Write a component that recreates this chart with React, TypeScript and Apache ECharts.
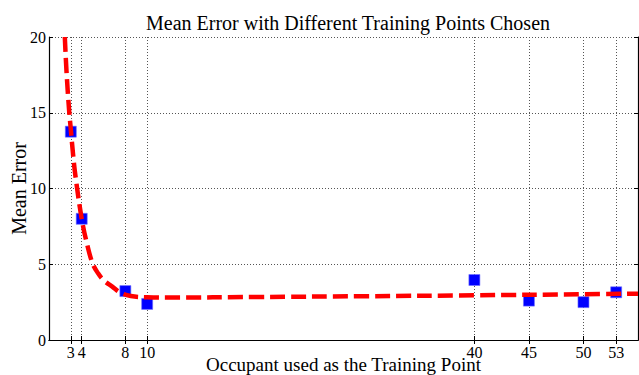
import React, { useEffect, useRef } from "react";
import * as echarts from "echarts";

// Training-point occupants and the measured mean error for each
const occupants = [3, 4, 8, 10, 40, 45, 50, 53];
const meanErrors = [13.75, 8.0, 3.23, 2.38, 3.96, 2.6, 2.5, 3.15];

// Fitted trend curve (x, y) samples
const fitX = [2.45, 2.6, 2.84, 3.0, 3.2, 3.43, 4.0, 4.5, 5.0, 5.5, 6.0, 6.8, 7.5, 8.5, 10, 12, 20, 30, 40, 50, 55];
const fitY = [20, 17.8, 15.2, 13.9, 12.3, 10.8, 8.0, 6.3, 5.05, 4.4, 3.95, 3.52, 3.15, 2.9, 2.82, 2.8, 2.84, 2.89, 2.95, 3.02, 3.06];

// Axis ticks
const xTicks = [3, 4, 8, 10, 40, 45, 50, 53];
const yTicks = [0, 5, 10, 15, 20];

const FONT = "'Liberation Serif', 'DejaVu Serif', serif";

export default function App() {
  const ref = useRef<HTMLDivElement>(null);

  useEffect(() => {
    if (!ref.current) return;
    const chart = echarts.init(ref.current, null, { renderer: "svg" });

    const gridLine = { show: true, lineStyle: { color: "#555", width: 1, type: [1, 2] as number[] } };
    const axisLine = { show: true, lineStyle: { color: "#000", width: 1.2 } };

    chart.setOption({
      animation: false,
      backgroundColor: "#fff",
      title: {
        text: "Mean Error with Different Training Points Chosen",
        left: 343,
        textAlign: "center",
        top: 8,
        textStyle: { fontFamily: FONT, fontWeight: "normal", fontSize: 20, color: "#000" },
      },
      grid: { left: 49, right: 1, top: 37, bottom: 35, containLabel: false, outerBoundsMode: "none" },
      xAxis: [
        {
          type: "value",
          min: 1,
          max: 55,
          position: "bottom",
          name: "Occupant used as the Training Point",
          nameLocation: "middle",
          nameGap: 15,
          nameMoveOverlap: false,
          nameTextStyle: { fontFamily: FONT, fontSize: 19, color: "#000" },
          axisLine,
          axisTick: { show: true, inside: true, length: 4, customValues: xTicks, lineStyle: { color: "#000" } },
          axisLabel: { customValues: xTicks, fontFamily: FONT, fontSize: 16, color: "#000", margin: 4 },
          splitLine: gridLine,
        },
        {
          type: "value",
          min: 1,
          max: 55,
          position: "top",
          axisLine,
          axisTick: { show: true, inside: true, length: 4, customValues: xTicks, lineStyle: { color: "#000" } },
          axisLabel: { show: false, customValues: xTicks },
          splitLine: { show: false },
        },
      ],
      yAxis: [
        {
          type: "value",
          min: 0,
          max: 20,
          interval: 5,
          position: "left",
          name: "Mean Error",
          nameLocation: "middle",
          nameGap: 20,
          nameMoveOverlap: false,
          nameTextStyle: { fontFamily: FONT, fontSize: 20, color: "#000" },
          axisLine,
          axisTick: { show: true, inside: true, length: 4, customValues: yTicks, lineStyle: { color: "#000" } },
          axisLabel: { customValues: yTicks, fontFamily: FONT, fontSize: 16, color: "#000", margin: 3 },
          splitLine: gridLine,
        },
        {
          type: "value",
          min: 0,
          max: 20,
          interval: 5,
          position: "right",
          axisLine,
          axisTick: { show: true, inside: true, length: 4, lineStyle: { color: "#000" } },
          axisLabel: { show: false },
          splitLine: { show: false },
        },
      ],
      series: [
        {
          type: "scatter",
          name: "Mean Error",
          data: occupants.map((x, i) => [x, meanErrors[i]]),
          symbol: "rect",
          symbolSize: 11,
          itemStyle: { color: "#0000ff", opacity: 1, borderColor: "#6f6fff", borderWidth: 0.6 },
          z: 3,
        },
        {
          type: "line",
          name: "Fit",
          data: fitX.map((x, i) => [x, fitY[i]]),
          showSymbol: false,
          symbol: "none",
          smooth: 0.4,
          clip: true,
          lineStyle: { color: "#ff0000", width: 4.5, type: [15, 6] as number[], cap: "butt" },
          z: 4,
        },
      ],
    });

    return () => chart.dispose();
  }, []);

  return (
    <div
      ref={ref}
      style={{ position: "fixed", left: 0, top: 0, width: 639, height: 375, background: "#fff" }}
    />
  );
}
